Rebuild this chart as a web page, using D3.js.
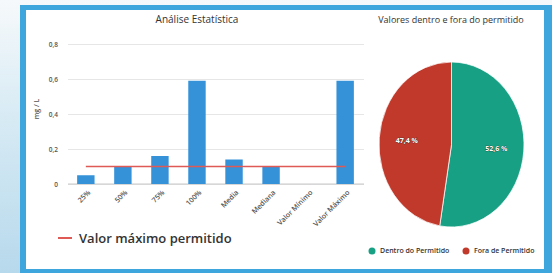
<!DOCTYPE html>
<html>
<head>
<meta charset="utf-8">
<script src="https://d3js.org/d3.v7.min.js"></script>
<style>
  body { margin: 0; background: #fff; }
  svg { display: block; font-family: "Open Sans", sans-serif; }
</style>
</head>
<body>
<div id="chart"></div>
<script>
// data
const categories = ["25%", "50%", "75%", "100%", "Media", "Mediana", "Valor Mínimo", "Valor Máximo"];
const values = [0.05, 0.1, 0.16, 0.59, 0.14, 0.1, 0, 0.59];
const limitValue = 0.1;
const yTicks = [0, 0.2, 0.4, 0.6, 0.8];
const pieLabels = ["Dentro do Permitido", "Fora de Permitido"];
const pieValues = [52.6, 47.4];
const pieColors = ["#17a084", "#c0392b"];

const W = 552, H = 273;
const svg = d3.select("#chart").append("svg")
  .attr("width", W).attr("height", H);

// background + frame
const defs = svg.append("defs");
const grad = defs.append("linearGradient").attr("id", "bg")
  .attr("x1", 0).attr("y1", 0).attr("x2", 0).attr("y2", 1);
grad.append("stop").attr("offset", "0%").attr("stop-color", "#f6f9fb");
grad.append("stop").attr("offset", "45%").attr("stop-color", "#d6eaf4");
grad.append("stop").attr("offset", "100%").attr("stop-color", "#b7d9ec");
svg.append("rect").attr("width", W).attr("height", H).attr("fill", "url(#bg)");
svg.append("rect").attr("x", 20).attr("y", 5).attr("width", W - 20).attr("height", H - 5)
  .attr("fill", "#3ea6dc");
svg.append("rect").attr("x", 26).attr("y", 10).attr("width", 518).attr("height", 259)
  .attr("fill", "#fff");

// ---- bar chart ----
const x = d3.scaleBand().domain(categories).range([67.5, 363.5]).paddingInner(0.53).paddingOuter(0.26);
const y = d3.scaleLinear().domain([0, 0.8]).range([184, 44]);
const fmt = d => d === 0 ? "0" : d3.format(".1f")(d).replace(".", ",");

svg.append("text").attr("x", 197).attr("y", 23).attr("text-anchor", "middle")
  .attr("font-size", 10).attr("fill", "#333").text("Análise Estatística");

const yAxis = svg.append("g").attr("transform", "translate(68,0)")
  .call(d3.axisLeft(y).tickValues(yTicks).tickFormat(fmt).tickSize(-296).tickPadding(10));
yAxis.select(".domain").remove();
yAxis.selectAll(".tick line").attr("stroke", "#e6e6e6");
yAxis.selectAll(".tick text").attr("font-size", 6.5).attr("fill", "#555")
  .attr("font-family", "'Open Sans', sans-serif").attr("font-weight", 600);
svg.append("line").attr("x1", 68).attr("x2", 364).attr("y1", y(0)).attr("y2", y(0))
  .attr("stroke", "#c8c8c8");

svg.append("text").attr("transform", "translate(39,109) rotate(-90)")
  .attr("text-anchor", "middle").attr("font-size", 7).attr("font-weight", 600)
  .attr("fill", "#555").text("mg / L");

svg.append("g").selectAll("rect").data(values).join("rect")
  .attr("x", (d, i) => x(categories[i]))
  .attr("width", x.bandwidth())
  .attr("y", d => y(d))
  .attr("height", d => y(0) - y(d))
  .attr("fill", "#3592d9");

svg.append("line")
  .attr("x1", x(categories[0]) + x.bandwidth() / 2)
  .attr("x2", x(categories[categories.length - 1]) + x.bandwidth() / 2)
  .attr("y1", y(limitValue)).attr("y2", y(limitValue))
  .attr("stroke", "#e05a55").attr("stroke-width", 1.5);

defs.append("clipPath").attr("id", "xclip").append("rect")
  .attr("x", 30).attr("y", 186).attr("width", 340).attr("height", 43);
const xAxis = svg.append("g").attr("clip-path", "url(#xclip)")
  .append("g").attr("transform", "translate(0,184)")
  .call(d3.axisBottom(x).tickSize(0).tickPadding(0));
xAxis.select(".domain").remove();
xAxis.selectAll(".tick text")
  .attr("font-size", 7.2).attr("fill", "#555").attr("font-weight", 600)
  .attr("font-family", "'Open Sans', sans-serif")
  .attr("text-anchor", "end").attr("dy", 0)
  .attr("transform", "translate(5,9) rotate(-45)");

// legend of bar chart
svg.append("line").attr("x1", 58).attr("x2", 72).attr("y1", 238).attr("y2", 238)
  .attr("stroke", "#e05a55").attr("stroke-width", 2);
svg.append("text").attr("x", 79).attr("y", 243).attr("font-size", 13).attr("font-weight", 600)
  .attr("fill", "#333").text("Valor máximo permitido");

// ---- pie chart ----
svg.append("text").attr("x", 451).attr("y", 23).attr("text-anchor", "middle")
  .attr("font-size", 9).attr("fill", "#333").text("Valores dentro e fora do permitido");

const cx = 451.5, cy = 144.5, rx = 72.5, ry = 82.5;
const pie = d3.pie().sort(null)(pieValues);
const arc = d3.arc().innerRadius(0).outerRadius(ry);
const pg = svg.append("g")
  .attr("transform", `translate(${cx},${cy}) scale(${rx / ry},1)`);
pg.selectAll("path").data(pie).join("path")
  .attr("d", arc).attr("fill", (d, i) => pieColors[i])
  .attr("stroke", "#fff").attr("stroke-width", 0.8);

const labelArc = d3.arc().innerRadius(ry * 0.62).outerRadius(ry * 0.62);
svg.append("g").selectAll("text").data(pie).join("text")
  .attr("x", d => cx + labelArc.centroid(d)[0] * rx / ry)
  .attr("y", d => cy + labelArc.centroid(d)[1])
  .attr("text-anchor", "middle").attr("dy", "0.35em")
  .attr("font-size", 7).attr("font-weight", 700).attr("fill", "#fff")
  .attr("stroke", "#333").attr("stroke-width", 0.6).attr("paint-order", "stroke")
  .text(d => d3.format(".1f")(d.value).replace(".", ",") + " %");

// pie legend
const legX = [372, 466];
const lg = svg.append("g").selectAll("g").data(pieLabels).join("g")
  .attr("transform", (d, i) => `translate(${legX[i]},251)`);
lg.append("circle").attr("r", 3.5).attr("fill", (d, i) => pieColors[i]);
lg.append("text").attr("x", 8).attr("dy", "0.35em").attr("font-size", 7)
  .attr("font-weight", 600).attr("fill", "#333").text(d => d);
</script>
</body>
</html>
